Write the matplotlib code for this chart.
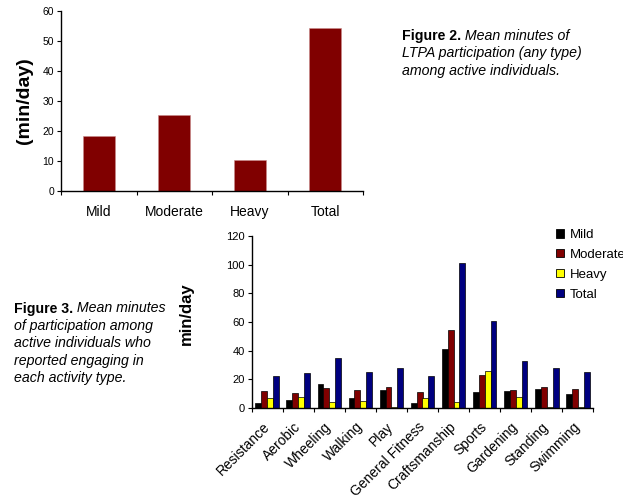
import numpy as np
import matplotlib
matplotlib.use("Agg")
import matplotlib.pyplot as plt
from matplotlib.patches import Patch

plt.rcParams['font.family'] = ['Liberation Sans', 'DejaVu Sans']

# Figure 2 data: mean minutes per day of LTPA by intensity
intensity = ["Mild", "Moderate", "Heavy", "Total"]
intensity_minutes = [18.5, 25.4, 10.4, 54.4]

# Figure 3 data: mean minutes per day by activity type
activities = ["Resistance", "Aerobic", "Wheeling", "Walking", "Play",
              "General Fitness", "Craftsmanship", "Sports", "Gardening",
              "Standing", "Swimming"]
mild = [3.3, 5.8, 17.0, 7.2, 12.6, 3.7, 41.4, 10.9, 12.1, 13.0, 10.0]
moderate = [12.1, 10.5, 14.0, 12.6, 14.4, 11.4, 54.7, 23.0, 12.6, 14.4, 13.0]
heavy = [6.7, 7.4, 4.0, 4.7, 1.0, 6.7, 4.4, 26.0, 7.4, 0.7, 0.9]
total = [22.3, 24.2, 35.1, 24.9, 28.1, 22.3, 100.9, 60.9, 32.6, 28.1, 24.9]

W, H = 623, 495
fig = plt.figure(figsize=(W / 100, H / 100), dpi=100)


def px_axes(left, top, right, bottom):
    return fig.add_axes([left / W, 1 - bottom / H, (right - left) / W, (bottom - top) / H])


def style_axes(ax):
    for s in ("top", "right"):
        ax.spines[s].set_visible(False)
    for s in ("left", "bottom"):
        ax.spines[s].set_color("black")
        ax.spines[s].set_linewidth(1.0)
    ax.set_facecolor("none")


# ---- Figure 2 ----
ax1 = px_axes(61, 11, 363, 191.3)
style_axes(ax1)
x1 = np.arange(len(intensity))
ax1.bar(x1, intensity_minutes, width=0.42, color="#800000",
        edgecolor="#c98a8a", linewidth=0.4)
ax1.set_xlim(-0.5, len(intensity) - 0.5)
ax1.set_ylim(0, 60)
ax1.set_yticks(range(0, 61, 10))
ax1.tick_params(axis="y", labelsize=7.5, length=3, width=0.8, pad=2)
ax1.set_xticks(np.arange(-0.5, len(intensity), 1.0))
ax1.set_xticklabels([])
ax1.set_xticks(x1, minor=True)
ax1.set_xticklabels(intensity, minor=True, fontsize=10)
ax1.tick_params(axis="x", which="major", length=3, width=0.8)
ax1.tick_params(axis="x", which="minor", length=0, pad=10)
fig.text(24 / W, 1 - 101 / H, "(min/day)", rotation=90, fontsize=14,
         fontweight="bold", ha="center", va="center")


def caption(x, y, bold, lines, size, step=17.4):
    t = fig.text(x / W, 1 - y / H, bold, fontsize=size, fontweight="bold",
                 va="baseline", ha="left")
    fig.canvas.draw()
    bb = t.get_window_extent()
    fig.text(bb.x1 / W, 1 - y / H, " " + lines[0], fontsize=size,
             style="italic", va="baseline", ha="left")
    for i, ln in enumerate(lines[1:], start=1):
        fig.text(x / W, 1 - (y + i * step) / H, ln, fontsize=size,
                 style="italic", va="baseline", ha="left")


caption(401.5, 40, "Figure 2.",
        ["Mean minutes of", "LTPA participation (any type)",
         "among active individuals."], 10.2)

# ---- Figure 3 ----
ax2 = px_axes(251.7, 236, 593.3, 408)
style_axes(ax2)
x2 = np.arange(len(activities))
bw = 0.19
series = [("Mild", mild, "#000000"), ("Moderate", moderate, "#800000"),
          ("Heavy", heavy, "#ffff00"), ("Total", total, "#000080")]
for k, (name, vals, col) in enumerate(series):
    ax2.bar(x2 + (k - 1.5) * bw, vals, width=bw, color=col,
            edgecolor="black", linewidth=0.5, label=name)
ax2.set_xlim(-0.5, len(activities) - 0.5)
ax2.set_ylim(0, 120)
ax2.set_yticks(range(0, 121, 20))
ax2.tick_params(axis="y", labelsize=8, length=3, width=0.8, pad=2)
ax2.set_xticks(np.arange(-0.5, len(activities), 1.0))
ax2.set_xticklabels([])
ax2.tick_params(axis="x", which="major", length=3, width=0.8)
ax2.set_xticks(x2, minor=True)
ax2.set_xticklabels(activities, minor=True, fontsize=10, rotation=45,
                    ha="right", va="center", rotation_mode="anchor")
ax2.tick_params(axis="x", which="minor", length=0, pad=12)
fig.text(186 / W, 1 - 314 / H, "min/day", rotation=90, fontsize=12,
         fontweight="bold", ha="center", va="center")

handles = [Patch(facecolor=c, edgecolor="black", linewidth=0.6, label=n)
           for n, _, c in series]
fig.legend(handles=handles, loc="upper left",
           bbox_to_anchor=(556 / W, 1 - 229 / H), frameon=False,
           fontsize=9.5, handlelength=0.6, handleheight=0.6,
           handletextpad=0.45, labelspacing=0.6, borderpad=0,
           borderaxespad=0)

caption(14, 312.5, "Figure 3.",
        ["Mean minutes", "of participation among", "active individuals who",
         "reported engaging in", "each activity type."], 10.2)

fig.savefig("out.png", dpi=100)
